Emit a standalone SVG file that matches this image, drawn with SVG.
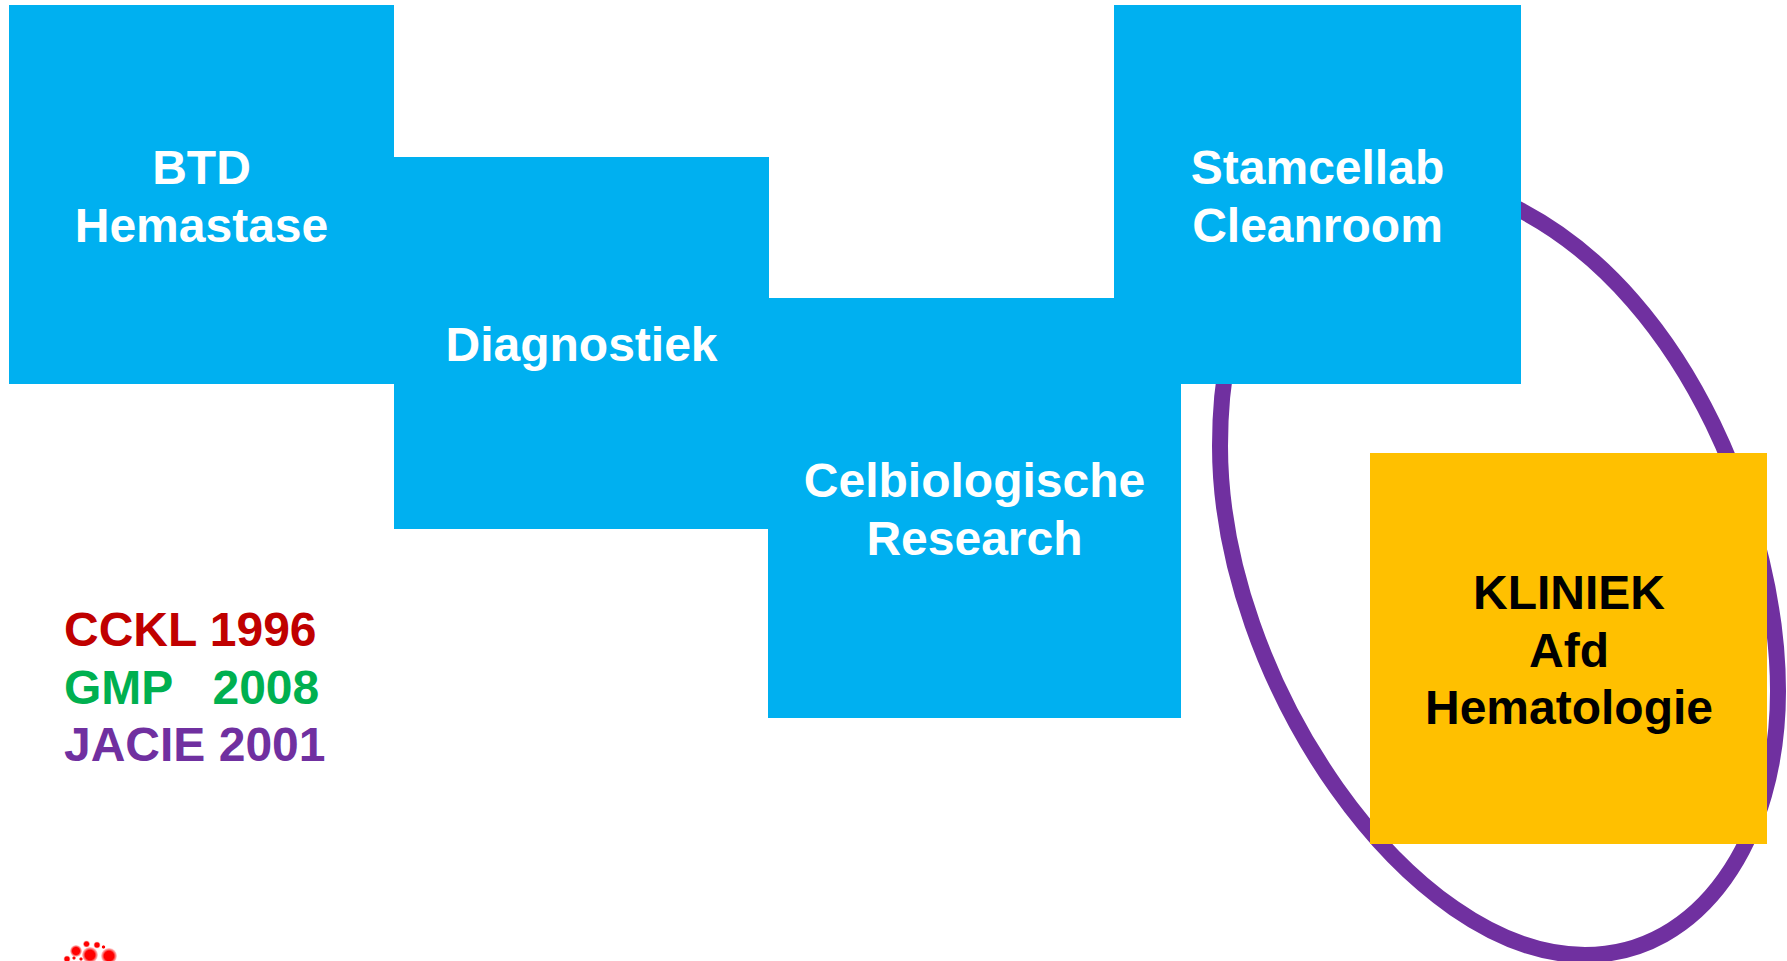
<svg xmlns="http://www.w3.org/2000/svg" width="1787" height="961" viewBox="0 0 1787 961">
<style>
.b{fill:#00b0f0}
.t{font-family:"Liberation Sans",Arial,sans-serif;font-weight:700;font-size:48px}
.w{fill:#fff;text-anchor:middle}
.k{fill:#000;text-anchor:middle}
</style>
<defs>
<radialGradient id="r"><stop offset="0.6" stop-color="#f00"/><stop offset="0.8" stop-color="#f77"/><stop offset="1" stop-color="#fdd"/></radialGradient>
</defs>
<rect width="1787" height="961" fill="#fff"/>
<g id="connectors">
<path id="ring" fill="none" stroke="#7030a0" stroke-width="16" d="M1220,446C1220,680 1410,955 1585,955C1700,955 1778,840 1778,691C1778,530 1690,300 1522,211C1440,165 1220,150 1220,446Z"/>
</g>
<g id="btd"><rect class="b" x="9" y="5" width="385" height="379"/><text class="t w" x="201.500" y="184">BTD</text><text class="t w" x="201.500" y="242">Hemastase</text></g>
<g id="diagnostiek"><rect class="b" x="394" y="157" width="375" height="372"/><text class="t w" x="581.500" y="361">Diagnostiek</text></g>
<g id="celbiologische"><rect class="b" x="768" y="298" width="413" height="420"/><text class="t w" x="974.500" y="497">Celbiologische</text><text class="t w" x="974.500" y="555">Research</text></g>
<g id="stamcellab"><rect class="b" x="1114" y="5" width="407" height="379"/><text class="t w" x="1317.500" y="184">Stamcellab</text><text class="t w" x="1317.500" y="242">Cleanroom</text></g>
<g id="kliniek"><rect fill="#ffc000" x="1370" y="453" width="397" height="391"/><text class="t k" x="1569" y="609">KLINIEK</text><text class="t k" x="1569" y="667">Afd</text><text class="t k" x="1569" y="724">Hematologie</text></g>
<g id="legend">
<text class="t" x="64" y="646" fill="#c00000" xml:space="preserve">CCKL 1996</text>
<text class="t" x="64" y="704" fill="#00b050" xml:space="preserve">GMP   2008</text>
<text class="t" x="64" y="761" fill="#7030a0" xml:space="preserve">JACIE 2001</text>
</g>
<g id="logo" fill="url(#r)">
<circle cx="76" cy="951" r="6"/><circle cx="86.500" cy="944" r="3.500"/><circle cx="97" cy="945" r="3.500"/><circle cx="103.500" cy="947" r="2"/><circle cx="90" cy="955" r="8"/><circle cx="109" cy="956" r="8"/><circle cx="67" cy="959" r="3.500"/><circle cx="74" cy="958" r="2"/><circle cx="81" cy="959" r="2"/>
</g>
</svg>
